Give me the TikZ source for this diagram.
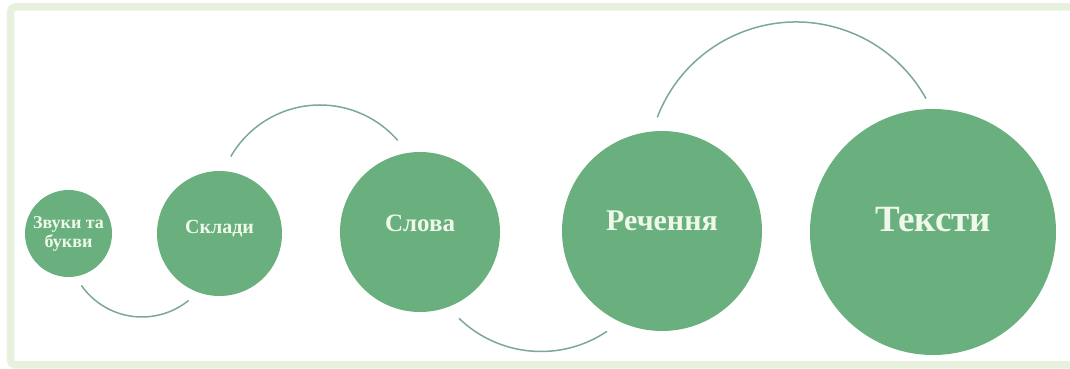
\documentclass[tikz,border=0pt]{standalone}
\usepackage{fontspec}
\setmainfont{Liberation Serif}
\begin{document}
\begin{tikzpicture}[x=1pt,y=1pt,
        burbuja/.style={circle,fill=hoja,text=crema,inner sep=0pt,font=\bfseries},
        centro/.style={text height=0pt,text depth=0pt},
        enlace/.style={draw=gris,line width=1.5pt}]
        %colores
        \definecolor{hoja}{RGB}{106,175,126}
        \definecolor{crema}{RGB}{238,249,234}
        \definecolor{gris}{RGB}{124,168,148}
        \definecolor{borde}{RGB}{232,241,222}

        % lienzo y marco
        \useasboundingbox (0,0) rectangle (1070,369);
        \draw[borde,line width=7.5pt,rounded corners=5pt] (10.5,4) rectangle (1090,362);

        % circulos
        \node[burbuja,minimum size=87pt,align=center,font=\bfseries\fontsize{18}{19}\selectfont] (zvuky) at (68.5,135.5) {Звуки та\\букви};
        \node[burbuja,centro,minimum size=125pt,font=\bfseries\fontsize{20}{24}\selectfont] (sklady) at (219.5,135.5) {Склади};
        \node[burbuja,centro,minimum size=160pt,font=\bfseries\fontsize{25}{30}\selectfont] (slova) at (420,137) {Слова};
        \node[burbuja,centro,minimum size=200pt,font=\bfseries\fontsize{30}{36}\selectfont] (rechennia) at (662,138) {Речення};
        \node[burbuja,centro,minimum size=246pt,font=\bfseries\fontsize{37}{44}\selectfont] (teksty) at (933,137) {Тексти};

        % arcos entre circulos
        \coordinate (a1) at (142,126);
        \coordinate (a2) at (320,161);
        \coordinate (a3) at (541,135.5);
        \coordinate (a4) at (796,198.4);
        \draw[enlace] (a1) ++(215:74) arc (215:309:74);
        \draw[enlace] (a2) ++(150:103) arc (150:41:103);
        \draw[enlace] (a3) ++(226:118) arc (226:304:118);
        \draw[enlace] (a4) ++(159:148.6) arc (159:29:148.6);
    \end{tikzpicture}
\end{document}
